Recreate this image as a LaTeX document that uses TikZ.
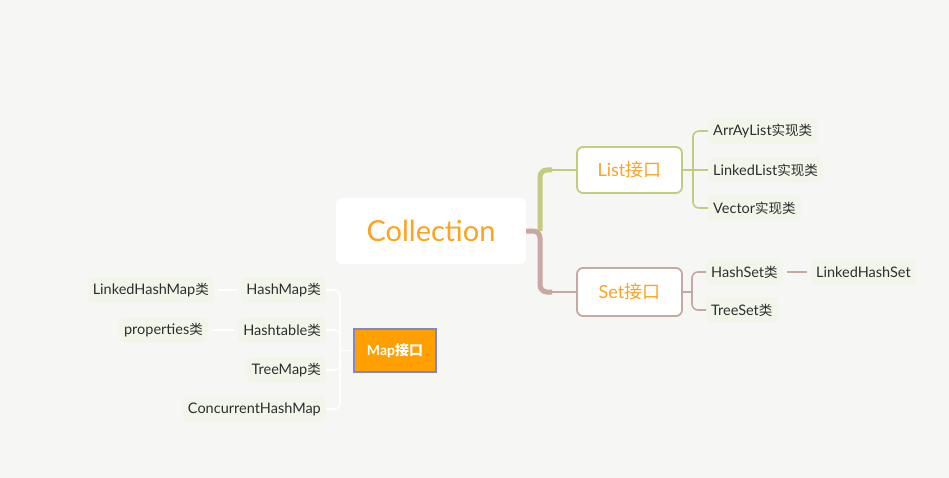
\documentclass[tikz,border=0pt]{standalone}
\usepackage{fontspec}
\setmainfont{Lato}
\newfontfamily\cjk{Noto Sans CJK SC}
\newcommand{\zh}[1]{{\cjk\fontsize{13.5}{15}\selectfont #1}}
\newcommand{\zhb}[1]{{\cjk #1}}
\definecolor{bgc}{HTML}{F6F6F5}
\definecolor{orng}{HTML}{FFA21F}
\definecolor{grn}{HTML}{C4CB7F}
\definecolor{brn}{HTML}{C8A8A0}
\definecolor{chfill}{HTML}{F1F5EA}
\definecolor{txt}{HTML}{2E2E2E}
\definecolor{mapfill}{HTML}{FFA000}
\definecolor{mapborder}{HTML}{7E87C9}
\begin{document}
\begin{tikzpicture}[x=1pt,y=-1pt,
  root/.style={fill=white, rounded corners=6pt, minimum width=190pt, minimum height=66pt, text=orng, font=\fontsize{29}{32}\selectfont},
  iface/.style={fill=white, draw=#1, line width=1.8pt, rounded corners=6pt, minimum width=105pt, minimum height=46pt, text=orng, font=\fontsize{18}{20}\selectfont},
  leaf/.style={fill=chfill, rounded corners=5pt, inner xsep=5pt, inner ysep=0pt, minimum height=25pt, text=txt, font=\fontsize{14.5}{16}\selectfont},
  thin/.style={draw=#1, line width=1.6pt, rounded corners=6pt},
]
\fill[bgc] (0,0) rectangle (949,478);
\useasboundingbox (0,0) rectangle (949,478);

% root and interfaces
\node[root] (coll) at (431,231) {Collection};
\node[iface=grn] (list) at (629.5,170) {List\zhb{接口}};
\node[iface=brn, minimum height=48pt] (set) at (629.5,292) {Set\zhb{接口}};
\node[fill=mapfill, draw=mapborder, line width=1.6pt, minimum width=82pt, minimum height=43pt, text=white, font=\fontsize{14}{16}\selectfont\bfseries] (map) at (395,350.5) {Map\zhb{接口}};

% list children
\node[leaf, anchor=west] (arr) at (708,131) {ArrAyList\zh{实现类}};
\node[leaf, anchor=west] (lnk) at (708,170) {LinkedList\zh{实现类}};
\node[leaf, anchor=west] (vec) at (708,208) {Vector\zh{实现类}};

% set children
\node[leaf, anchor=west] (hs) at (706,272) {HashSet\zh{类}};
\node[leaf, anchor=west] (ts) at (706,310) {TreeSet\zh{类}};
\node[leaf, anchor=west] (lhs) at (811,272) {LinkedHashSet};

% map children
\node[leaf, anchor=east] (hm) at (326,290) {HashMap\zh{类}};
\node[leaf, anchor=east] (ht) at (326,330) {Hashtable\zh{类}};
\node[leaf, anchor=east] (tm) at (326,370) {TreeMap\zh{类}};
\node[leaf, anchor=east] (chm) at (326,409) {ConcurrentHashMap};
\node[leaf, anchor=east] (lhm) at (214,290) {LinkedHashMap\zh{类}};
\node[leaf, anchor=east] (prop) at (208,330) {properties\zh{类}};

% root trunk
\coordinate (tr) at (540,231);
\draw[grn, line width=5pt, rounded corners=7pt] (tr) -- (540,170) -- (552,170);
\draw[grn, line width=2pt] (550,170) -- (list.west);
\draw[brn, line width=5pt, rounded corners=7pt] (coll.east) -- (tr) -- (540,292) -- (552,292);
\draw[brn, line width=2pt] (550,292) -- (set.west);

% list branches
\coordinate (lj) at (693,170);
\draw[thin=grn] (list.east) -- (lj);
\draw[thin=grn] (lj) |- (arr.west);
\draw[thin=grn] (lj) -- (lnk.west);
\draw[thin=grn] (lj) |- (vec.west);

% set branches
\coordinate (sj) at (692,292);
\draw[thin=brn] (set.east) -- (sj);
\draw[thin=brn] (sj) |- (hs.west);
\draw[thin=brn] (sj) |- (ts.west);
\draw[brn, line width=1.6pt] ([xshift=4pt]hs.east) -- ([xshift=-4pt]lhs.west);

% map branches
\coordinate (mj) at (340,350.5);
\draw[thin=white] (map.west) -- (mj);
\draw[thin=white] (mj) |- (hm.east);
\draw[thin=white] (mj) |- (ht.east);
\draw[thin=white] (mj) |- (tm.east);
\draw[thin=white] (mj) |- (chm.east);
\draw[white, line width=1.6pt] ([xshift=-4pt]hm.west) -- ([xshift=4pt]lhm.east);
\draw[white, line width=1.6pt] ([xshift=-4pt]ht.west) -- ([xshift=4pt]prop.east);
\end{tikzpicture}
\end{document}
